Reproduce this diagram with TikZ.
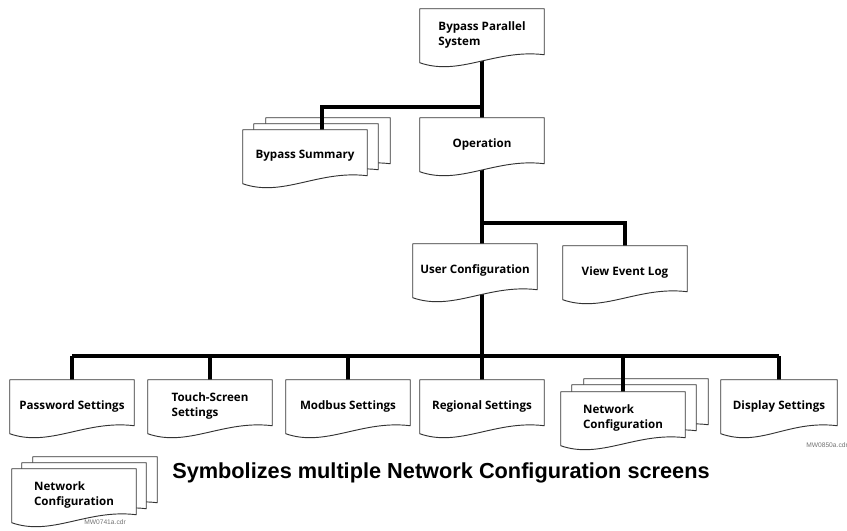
\documentclass[tikz,border=0pt]{standalone}
\usepackage{fontspec}
\setmainfont{Open Sans}
\newfontfamily\screenfont{Open Sans}
\newfontfamily\notefont{Liberation Sans}
\usetikzlibrary{calc}
\pgfdeclarelayer{back}
\pgfdeclarelayer{wires}
\pgfdeclarelayer{paper}
\pgfsetlayers{back,wires,paper,main}
\tikzstyle{screen}=[rectangle,minimum width=93pt,minimum height=39pt,inner sep=0pt,align=left,font=\screenfont\bfseries\fontsize{8.7}{10.8}\selectfont]
\tikzstyle{sheet}=[draw=black!80,line width=0.7pt,fill=white,line join=round]
\tikzstyle{wire}=[draw,line width=2.3pt]
\tikzstyle{cdr}=[anchor=base west,inner sep=0pt,text=black!55,font=\notefont\fontsize{5}{6}\selectfont]
% outline of one screen, wavy bottom edge
\newcommand{\sheetpath}[1]{%
  \path[sheet] (#1.north west) -- (#1.north east) -- ($(#1.north east)+(0,46)$)
    .. controls +(-49,-6) and +(40,14) .. ($(#1.north west)+(0,54)$) -- cycle;}

\begin{document}
\begin{tikzpicture}[x=0.75pt,y=-0.75pt]
    \useasboundingbox (0,0) rectangle (847,531);

    \foreach \pos/ \name/ \txt in {{(482,35)/top/{Bypass Parallel\\System}},
        {(328,144)/bs3/{}},{(316,150)/bs2/{}},{(305,156)/bs/{Bypass Summary}},
        {(482,144)/op/{Operation}},{(475,270)/uc/{User Configuration}},
        {(625,272)/vel/{View Event Log}}}
        \node[screen] (\name) at \pos {\txt};

    \foreach \pos/ \name/ \txt in {{(72,406)/pw/{Password Settings}},
        {(210,406)/ts/{Touch-Screen\\Settings}},{(348,406)/mb/{Modbus Settings}},
        {(482,406)/rg/{Regional Settings}},{(646,405)/nc3/{}},{(634,411)/nc2/{}},
        {(623,418)/nc/{Network\\Configuration}}}
        \node[screen] (\name) at \pos {\txt};
    \node[screen,minimum width=87pt] (ds) at (779,406) {Display Settings};

    % legend
    \foreach \pos/ \name/ \txt in {{(95,483)/ln3/{}},{(84,489)/ln2/{}},
        {(74,495)/ln/{Network\\Configuration}}}
        \node[screen] (\name) at \pos {\txt};
    \node[anchor=base west,inner sep=0pt,font=\notefont\bfseries\fontsize{16.3}{18}\selectfont] (legend) at (172,478)
        {Symbolizes multiple Network Configuration screens};
    \node[cdr] (code1) at (806,447) {MW0850a.cdr};
    \node[cdr] (code2) at (84,524) {MW0741a.cdr};

    \begin{pgfonlayer}{back}
        \foreach \name in {bs3,bs2,nc3,nc2,ln3,ln2}
            \sheetpath{\name};
    \end{pgfonlayer}
    \begin{pgfonlayer}{paper}
        \foreach \name in {top,bs,op,uc,vel,pw,ts,mb,rg,nc,ds,ln}
            \sheetpath{\name};
    \end{pgfonlayer}

    % connections
    \begin{pgfonlayer}{wires}
        \coordinate (j1) at (482,107);
        \coordinate (j2) at (482,223);
        \coordinate (bar) at (482,356);
        \coordinate (bsin) at ($(bs2.north)!.5!(bs3.north)$);
        \path[wire] (top) -- (rg);
        \path[wire] (j1) -| (bsin |- bs.north);
        \path[wire] (j2) -| (vel);
        \path[wire] (bar -| pw) -- (bar -| ds);
        \foreach \name in {pw,ts,mb,nc,ds}
            \path[wire] (bar -| \name) -- (\name);
    \end{pgfonlayer}
\end{tikzpicture}
\end{document}
